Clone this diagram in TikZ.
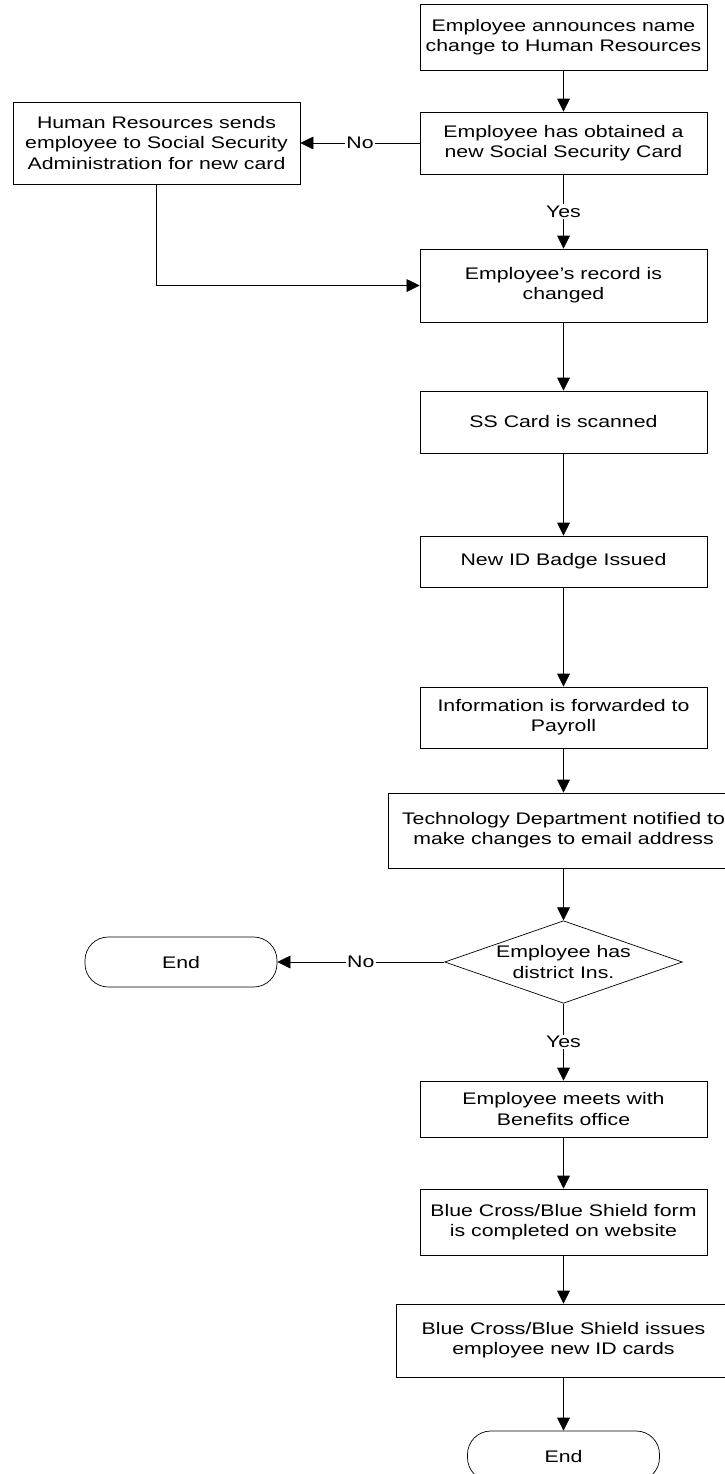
\documentclass[tikz,border=0pt]{standalone}
\usepackage{fontspec}
\setmainfont{Liberation Sans}[FakeStretch=1.27]
\usetikzlibrary{shapes.geometric,arrows.meta}
\tikzset{
	procbox/.style={draw, line width=0.6pt, minimum width=8.61cm, align=center, inner sep=2pt},
	decision/.style={draw, diamond, aspect=2.88, inner sep=1pt, line width=0.6pt, align=center},
	termin/.style={draw, rounded corners=0.7cm, minimum width=5.76cm, minimum height=1.5cm, line width=0.6pt},
	flow/.style={line width=0.6pt, -{Triangle[length=0.39cm, width=0.38cm]}},
	answer/.style={fill=white, inner sep=1pt},
}

\begin{document}
\begin{tikzpicture}[x=0.03cm, y=-0.03cm, font=\fontsize{14.3}{17.3}\selectfont]
			%%%%% START %%%%%
			\useasboundingbox (0, 0) rectangle (725, 1474);
			
			\node[procbox, minimum height=1.98cm] (announce) at (563.5, 37) {Employee announces name\\change to Human Resources};
			\node[procbox, minimum height=1.86cm] (hascard) at (563.5, 143) {Employee has obtained a\\new Social Security Card};
			\node[procbox, minimum height=2.46cm] (sendssa) at (156.5, 143) {Human Resources sends\\employee to Social Security\\Administration for new card};
			\node[procbox, minimum height=2.19cm] (record) at (563.5, 285.5) {Employee’s record is\\changed};
			\node[procbox, minimum height=1.86cm] (scan) at (563.5, 422) {SS Card is scanned};
			\node[procbox, minimum height=1.53cm] (badge) at (563.5, 561.5) {New ID Badge Issued};
			\node[procbox, minimum height=1.83cm] (payroll) at (563.5, 717.5) {Information is forwarded to\\Payroll};
			\node[procbox, minimum width=10.5cm, minimum height=2.25cm] (techdept) at (563.5, 830.5) {Technology Department notified to\\make changes to email address};
			\node[decision] (districtins) at (563.5, 962) {Employee has\\district Ins.};
			\node[termin] (endA) at (181, 962) {End};
			\node[procbox, minimum height=1.68cm] (benefits) at (563.5, 1109) {Employee meets with\\Benefits office};
			\node[procbox, minimum height=1.98cm] (bcbsform) at (563.5, 1222) {Blue Cross/Blue Shield form\\is completed on website};
			\node[procbox, minimum width=10.02cm, minimum height=2.19cm] (bcbscards) at (563.5, 1340.5) {Blue Cross/Blue Shield issues\\employee new ID cards};
			\node[termin] (endB) at (563.5, 1456) {End};
			
			\draw[flow] (announce) -- (hascard);
			\draw[flow] (hascard) -- node[answer] {No} (sendssa);
			\draw[flow] (hascard) -- node[answer] {Yes} (record);
			\draw[flow] (sendssa) |- (record);
			\draw[flow] (record) -- (scan);
			\draw[flow] (scan) -- (badge);
			\draw[flow] (badge) -- (payroll);
			\draw[flow] (payroll) -- (techdept);
			\draw[flow] (techdept) -- (districtins);
			\draw[flow] (districtins) -- node[answer] {No} (endA);
			\draw[flow] (districtins) -- node[answer] {Yes} (benefits);
			\draw[flow] (benefits) -- (bcbsform);
			\draw[flow] (bcbsform) -- (bcbscards);
			\draw[flow] (bcbscards) -- (endB);
			
			%%%%% END %%%%%
\end{tikzpicture}
\end{document}
